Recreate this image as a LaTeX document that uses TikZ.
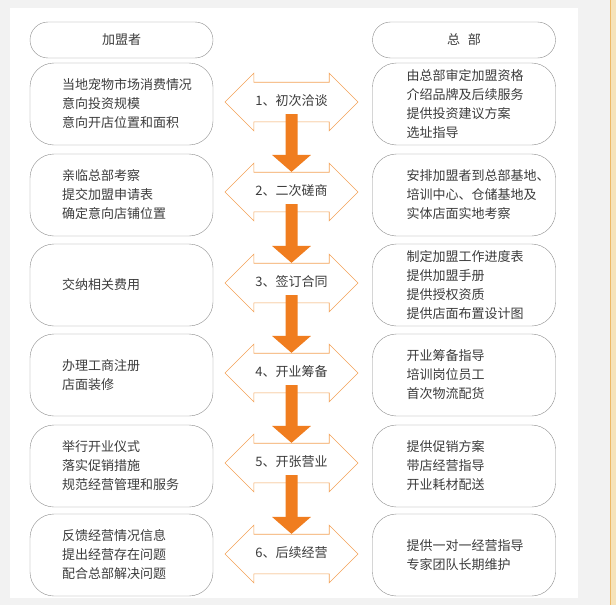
\documentclass[tikz,border=0pt]{standalone}
\usepackage{fontspec}
\newfontfamily\cjk{Noto Sans CJK SC}
\usepackage{xcolor}
\usepackage{tikz}
\usetikzlibrary{arrows.meta,shapes.arrows}
\usetikzlibrary{positioning}
\definecolor{boxgray}{HTML}{8C8C8C}
\definecolor{txtgray}{HTML}{3C3C3C}
\definecolor{lineor}{HTML}{F3A257}
\definecolor{fillor}{HTML}{F07D1F}
\definecolor{bggray}{HTML}{F2F2F2}
\definecolor{beige}{HTML}{F6E3BA}
\definecolor{beigeline}{HTML}{EDB866}

\begin{document}
\begin{tikzpicture}[x=1pt,y=-1pt,font=\cjk\fontsize{13}{19}\selectfont,text=txtgray]
	\tikzstyle{hdr}=[draw=boxgray, thin, rounded corners=18pt, minimum width=183pt, minimum height=36pt]
	\tikzstyle{box}=[draw=boxgray, thin, rounded corners=24pt, minimum width=183pt, minimum height=82pt]
	\tikzstyle{txt}=[align=left, inner sep=0pt]
	\tikzstyle{talk}=[double arrow, draw=lineor, fill=white, semithick, double arrow head extend=9pt,
		minimum height=133pt, text height=10pt, text depth=3pt, inner ysep=13pt, inner xsep=0pt]
	\tikzstyle{flow}=[draw=fillor, line width=12pt, -{Triangle[length=17pt,width=38pt]}, shorten <=-8pt]
	\useasboundingbox (0,0) rectangle (616,605);
	% background
	\fill[bggray] (0,0) rectangle (616,605);
	\fill[white] (10,8) rectangle (578,598);
	\fill[beige] (610,0) rectangle (616,605);
	\draw[beigeline, line width=1pt] (610.5,0) -- (610.5,605);
	% headers
	\node[hdr] (hL) at (121.5,40) {加盟者};
	\node[hdr] (hR) at (464,40) {总\hspace{8pt}部};
	% left column
	\node[box] (bL1) at (121.5,104) {};
	\node[box] (bL2) at (121.5,195) {};
	\node[box] (bL3) at (121.5,285) {};
	\node[box] (bL4) at (121.5,375) {};
	\node[box] (bL5) at (121.5,466) {};
	\node[box] (bL6) at (121.5,555) {};
	\node[txt, right=32pt of bL1.west] (tL1) {当地宠物市场消费情况\\意向投资规模\\意向开店位置和面积};
	\node[txt, right=32pt of bL2.west] (tL2) {亲临总部考察\\提交加盟申请表\\确定意向店铺位置};
	\node[txt, right=32pt of bL3.west] (tL3) {交纳相关费用};
	\node[txt, right=32pt of bL4.west] (tL4) {办理工商注册\\店面装修};
	\node[txt, right=32pt of bL5.west] (tL5) {举行开业仪式\\落实促销措施\\规范经营管理和服务};
	\node[txt, right=32pt of bL6.west] (tL6) {反馈经营情况信息\\提出经营存在问题\\配合总部解决问题};
	% right column
	\node[box] (bR1) at (464,104) {};
	\node[box] (bR2) at (464,195) {};
	\node[box] (bR3) at (464,285) {};
	\node[box] (bR4) at (464,375) {};
	\node[box] (bR5) at (464,466) {};
	\node[box] (bR6) at (464,555) {};
	\node[txt, right=34pt of bR1.west] (tR1) {由总部审定加盟资格\\介绍品牌及后续服务\\提供投资建议方案\\选址指导};
	\node[txt, right=34pt of bR2.west] (tR2) {安排加盟者到总部基地、\\培训中心、仓储基地及\\实体店面实地考察};
	\node[txt, right=34pt of bR3.west] (tR3) {制定加盟工作进度表\\提供加盟手册\\提供授权资质\\提供店面布置设计图};
	\node[txt, right=34pt of bR4.west] (tR4) {开业筹备指导\\培训岗位员工\\首次物流配货};
	\node[txt, right=34pt of bR5.west] (tR5) {提供促销方案\\带店经营指导\\开业耗材配送};
	\node[txt, right=34pt of bR6.west] (tR6) {提供一对一经营指导\\专家团队长期维护};
	% steps
	\node[talk] (a1) at (291.5,102) {1、初次洽谈};
	\node[talk] (a2) at (291.5,192) {2、二次磋商};
	\node[talk] (a3) at (291.5,283) {3、签订合同};
	\node[talk] (a4) at (291.5,373) {4、开业筹备};
	\node[talk] (a5) at (291.5,463) {5、开张营业};
	\node[talk] (a6) at (291.5,554) {6、后续经营};
	\path
		(a1) edge[flow] (a2)
		(a2) edge[flow] (a3)
		(a3) edge[flow] (a4)
		(a4) edge[flow] (a5)
		(a5) edge[flow] (a6);
\end{tikzpicture}
\end{document}
